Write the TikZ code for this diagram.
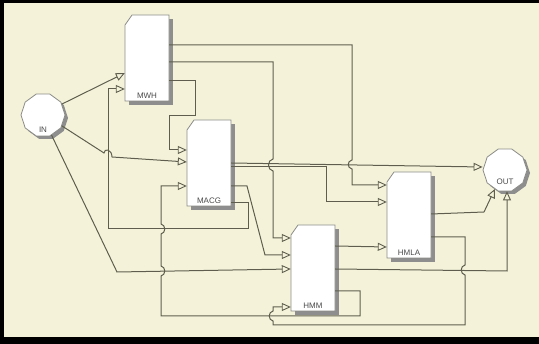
\documentclass[tikz,border=0pt]{standalone}
\usepackage{fontspec}
\setsansfont{Liberation Sans}
\usetikzlibrary{arrows.meta,shapes.geometric}
\definecolor{bg}{HTML}{F4F3DA}
\definecolor{wirec}{HTML}{5F5E4E}
\definecolor{edgec}{HTML}{8C8C88}
\definecolor{shadc}{HTML}{8E8E8E}
\definecolor{lblc}{HTML}{4A4A4A}
\tikzset{
  wire/.style={draw=wirec, line width=1pt, line join=miter},
  inarrow/.style={-{Triangle[open, length=9pt, width=8pt, line width=0.9pt]}},
  lbl/.style={font=\sffamily\fontsize{8}{9}\selectfont, text=lblc, inner sep=0pt},
  body/.style={draw=edgec, fill=white, line width=0.8pt},
  shadowfill/.style={fill=shadc},
  term/.style={regular polygon, regular polygon sides=10, minimum size=44pt, inner sep=0pt, draw=edgec, fill=white, line width=0.8pt},
  termshadow/.style={regular polygon, regular polygon sides=10, minimum size=44pt, inner sep=0pt, draw=none, fill=shadc},
  portbox/.style={rectangle, inner sep=0pt, minimum width=44pt, minimum height=86pt},
}
\newcommand\blockat[4]{%
  \fill[shadowfill] ({#2+4},{#3+4}) rectangle ({#2+48},{#3+90});
  \draw[body] ({#2+7},#3) -- ({#2+44},#3) -- ({#2+44},{#3+86}) -- (#2,{#3+86}) -- (#2,{#3+10}) -- cycle;
  \node[portbox] (#1) at ({#2+22},{#3+43}) {};
  \node[lbl, anchor=base] (#1-lbl) at ({#2+22},{#3+83.5}) {#4};
}
\begin{document}
\begin{tikzpicture}[x=1pt,y=-1pt]
\useasboundingbox (0,0) rectangle (539,344);
\fill[bg] (0,0) rectangle (539,344);

% blocks
\blockat{mwh}{125}{15}{MWH}
\blockat{macg}{187}{120}{MACG}
\blockat{hmla}{387}{172}{HMLA}
\blockat{hmm}{291}{225}{HMM}

% terminals
\node[termshadow] (inshadow) at (46,118) {};
\node[term] (in) at (43,115) {};
\node[lbl] (inlbl) at (43,130) {IN};
\node[termshadow] (outshadow) at (508,173) {};
\node[term] (out) at (505,170) {};
\node[lbl] (outlbl) at (505,182) {OUT};

% IN connections
\draw[wire, inarrow] (in.30) -- (mwh.west |- 0,73);
\draw[wire, inarrow] (in.-30) -- (104,153) .. controls (104,148) and (112,149) .. (112,157) -- (macg.west |- 0,162);
\draw[wire, inarrow] (in.-67) -- (117,272) -- (hmm.west |- 0,269);

% MWH outputs
\draw[wire, inarrow] (mwh.east |- 0,45) -- (352,45) -- (352,160) .. controls (347,161) and (347,168) .. (352,169) -- (352,185) -- (hmla.west |- 0,185);
\draw[wire, inarrow] (mwh.east |- 0,62) -- (273,62) -- (273,159) .. controls (267,160) and (267,170) .. (273,171) -- (273,238) -- (hmm.west |- 0,238);
\draw[wire, inarrow] (mwh.east |- 0,81) -- (195,81) -- (195,116) -- (169,116) -- (169,150) -- (macg.west |- 0,150);

% MACG outputs
\draw[wire, inarrow] (macg.east |- 0,163) -- (out.west |- 0,167);
\draw[wire, inarrow] (macg.east |- 0,167) -- (326,167) -- (326,202) -- (hmla.west |- 0,202);
\draw[wire, inarrow] (macg.east |- 0,186) -- (247,186) -- (265,255) -- (hmm.west |- 0,255);
\draw[wire, inarrow] (macg.east |- 0,203) -- (248,203) -- (248,229) -- (108,229) -- (108,89) -- (mwh.west |- 0,89);

% HMM outputs
\draw[wire, inarrow] (hmm.east |- 0,246) -- (hmla.west |- 0,247);
\draw[wire, inarrow] (hmm.east |- 0,269) -- (507,271) -- (out.south -| 507,0);
\draw[wire, inarrow] (hmm.east |- 0,291) -- (360,291) -- (360,316) -- (161,316) -- (161,276) .. controls (166,275) and (166,267) .. (161,266) -- (161,234) .. controls (166,233) and (166,225) .. (161,224) -- (161,186) -- (macg.west |- 0,186);

% HMLA outputs
\draw[wire, inarrow] (hmla.east |- 0,214) -- (484,212) -- (out.-118);
\draw[wire, inarrow] (hmla.east |- 0,237) -- (465,237) -- (465,265) .. controls (460,266) and (460,274) .. (465,275) -- (465,325) -- (273,325) -- (273,321) .. controls (268,320) and (268,312) .. (273,311) -- (273,307) -- (hmm.west |- 0,307);

% frame
\fill[black] (0,0) rectangle (539,3);
\fill[black] (0,0) rectangle (4,344);
\fill[black] (0,337) rectangle (539,344);
\end{tikzpicture}
\end{document}
